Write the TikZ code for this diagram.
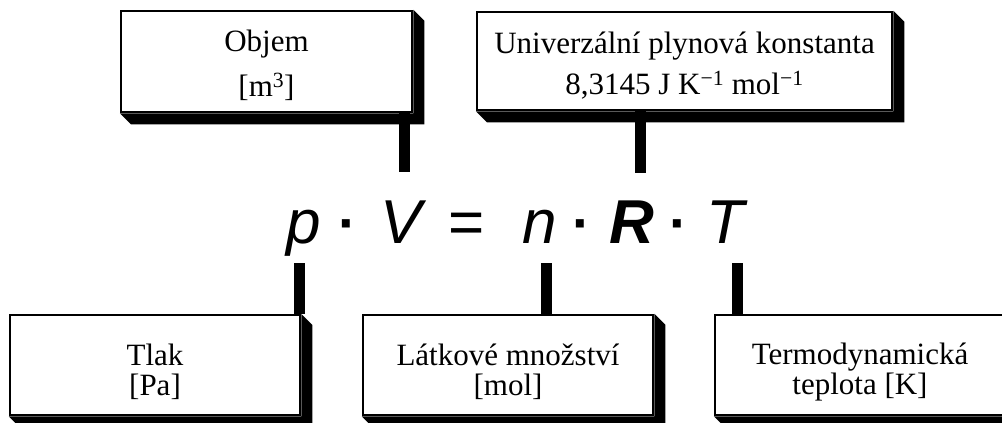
\documentclass[tikz,border=0pt]{standalone}
\usepackage{fontspec}
\setmainfont{Liberation Serif}
\newfontfamily\eqfont{Liberation Sans}
\begin{document}
\begin{tikzpicture}[x=1pt,y=-1pt,
  box/.style={draw, line width=2.5pt, fill=white, inner sep=0pt, align=center,
    font=\fontsize{31}{30}\selectfont, minimum height=100pt},
  conn/.style={line width=11pt},
  eq/.style={font=\eqfont\fontsize{62}{62}\selectfont\itshape, anchor=base, inner sep=0pt},
  dotc/.style={font=\eqfont\fontsize{56}{56}\selectfont\bfseries, anchor=base, inner sep=0pt},
  shadow/.style={fill=black}]
\useasboundingbox (0,0) rectangle (1002,423);
\clip (0,0) rectangle (1002,423);

% connector ends
\coordinate (cV) at (404,172);
\coordinate (cR) at (640,173);
\coordinate (cp) at (299,263);
\coordinate (cn) at (546,263);
\coordinate (cT) at (737,263);

% boxes
\node[box, minimum width=291pt, minimum height=101pt] (objem) at (266.5,61.5)
  {\rule{0pt}{30pt}Objem\\[15pt][m\textsuperscript{3}]};
\node[box, minimum width=415pt, minimum height=98pt] (univ) at (684.5,61)
  {\rule{0pt}{30pt}Univerzální plynová konstanta\\[10pt]8,3145 J K\textsuperscript{−1} mol\textsuperscript{−1}};
\node[box, minimum width=290pt] (tlak) at (155,365) {\rule{0pt}{36pt}Tlak\\[0pt]{[Pa]}};
\node[box, minimum width=290pt] (latk) at (508,365) {\rule{0pt}{36pt}Látkové množství\\[0pt]{[mol]}};
\node[box, minimum width=290pt] (termo) at (860,365) {\rule{0pt}{36pt}Termodynamická\\[0pt]teplota [K]};

% extruded shadows
\foreach \b in {objem,univ,tlak,latk,termo}{
  \fill[shadow] (\b.north east) -- ([shift={(11,11)}]\b.north east)
    -- ([shift={(11,11)}]\b.south east) -- ([shift={(11,11)}]\b.south west)
    -- (\b.south west) -- (\b.south east) -- cycle;
}

% connectors
\draw[conn] (objem.south -| cV) -- (cV);
\draw[conn] (univ.south -| cR) -- (cR);
\draw[conn] (cp) -- (tlak.north -| cp);
\draw[conn] (cn) -- (latk.north -| cn);
\draw[conn] (cT) -- (termo.north -| cT);

% equation
\node[eq] (p) at (304,243) {p};
\node[dotc] (d1) at (348,242.5) {·};
\node[eq] (V) at (401,243) {V};
\node[eq] (eqs) at (467,243) {\upshape=};
\node[eq] (n) at (540,243) {n};
\node[dotc] (d2) at (582,242.5) {·};
\node[eq] (R) at (632,243) {\bfseries R};
\node[dotc] (d3) at (679,242.5) {·};
\node[eq] (T) at (725,243) {T};
\end{tikzpicture}
\end{document}
